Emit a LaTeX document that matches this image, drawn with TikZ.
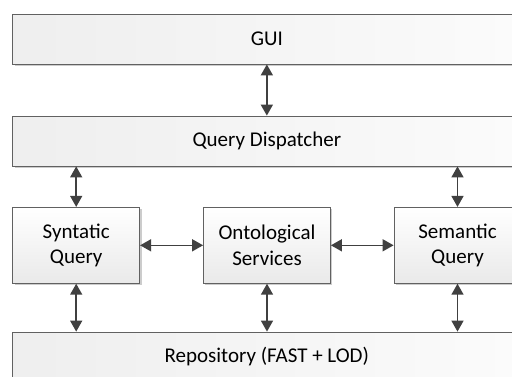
\documentclass[tikz,border=0pt]{standalone}
\usepackage{fontspec}
\setmainfont{Carlito}
\usetikzlibrary{arrows.meta,shadows}
\begin{document}
\begin{tikzpicture}[x=1pt,y=-1pt,
  font=\fontsize{21}{25.6}\selectfont,
  boxshadow/.style={drop shadow={shadow xshift=1.8pt,shadow yshift=-1.8pt,fill=black!20,opacity=1}},
  widebox/.style={draw=black!62,line width=0.8pt,left color=gray!13,right color=gray!3,
    minimum width=508.3pt,minimum height=50pt,inner sep=0pt,boxshadow},
  smallbox/.style={draw=black!62,line width=0.8pt,top color=white,bottom color=gray!17,
    minimum width=127pt,minimum height=76pt,inner sep=0pt,align=center,boxshadow},
  link/.style={draw=black!75,line width=1.5pt,{Triangle[length=11pt,width=12pt]}-{Triangle[length=11pt,width=12pt]}}]
\useasboundingbox (0,0) rectangle (512,376);
\clip (0,0) rectangle (512,376);
\fill[white] (0,0) rectangle (512,376);
% layers
\node[widebox] (gui)  at (266.85,39)  {GUI};
\node[widebox] (qd)   at (266.85,141) {Query Dispatcher};
\node[smallbox] (syn) at (76.2,245.3)  {Syntatic\\Query};
\node[smallbox] (ont) at (267,245.3)   {Ontological\\Services};
\node[smallbox] (sem) at (457.5,245.3) {Semantic\\Query};
\node[widebox] (repo) at (266.85,357) {Repository (FAST + LOD)};
% connectors
\draw[link] (gui.south) -- (qd.north);
\draw[link] (syn.north |- qd.south) -- (syn.north);
\draw[link] (sem.north |- qd.south) -- (sem.north);
\draw[link] (syn.east) -- (ont.west);
\draw[link] (ont.east) -- (sem.west);
\draw[link] (syn.south) -- (syn.south |- repo.north);
\draw[link] (ont.south) -- (ont.south |- repo.north);
\draw[link] (sem.south) -- (sem.south |- repo.north);
\end{tikzpicture}
\end{document}
